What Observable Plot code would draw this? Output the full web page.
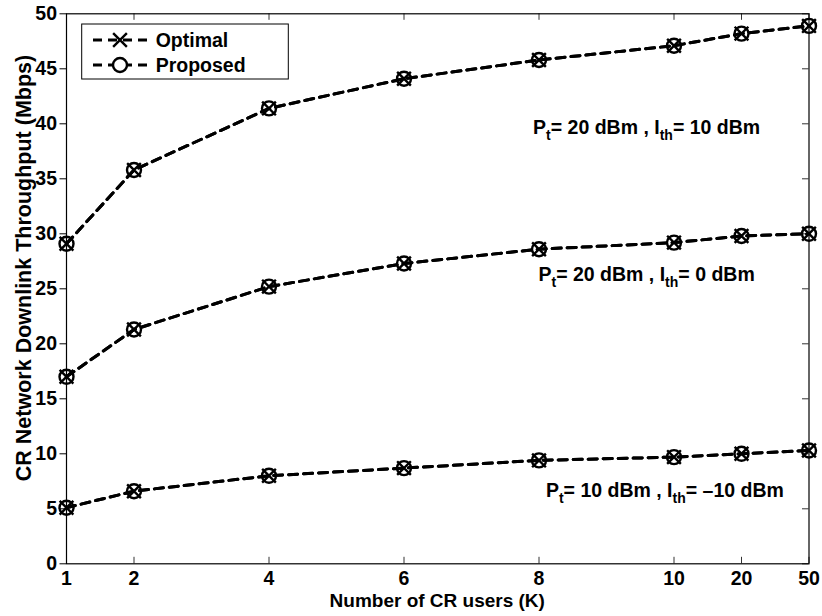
<!DOCTYPE html>
<html><head><meta charset="utf-8">
<script src="https://cdn.jsdelivr.net/npm/d3@7"></script>
<script src="https://cdn.jsdelivr.net/npm/@observablehq/plot@0.6"></script>
<style>
html,body{margin:0;padding:0;background:#fff;}
#chart{width:822px;height:616px;}
svg{font-family:"Liberation Sans",Arial,Helvetica,sans-serif;}
</style></head><body><div id="chart"></div>
<script>
// Category labels of the x axis (number of CR users) and their axis positions
const kLabels = ["1", "2", "4", "6", "8", "10", "20", "50"];
const kPos = [1, 2, 4, 6, 8, 10, 11, 12];
const yTicks = [0, 5, 10, 15, 20, 25, 30, 35, 40, 45, 50];

const methods = ["Optimal", "Proposed"];
const scenarioNames = ["Pt=20, Ith=10", "Pt=20, Ith=0", "Pt=10, Ith=-10"];

// Throughput (Mbps)
const optimalHigh  = [29.1, 35.8, 41.4, 44.1, 45.8, 47.1, 48.2, 48.9];
const proposedHigh = [29.1, 35.8, 41.4, 44.1, 45.8, 47.1, 48.2, 48.9];
const optimalMid   = [17.0, 21.3, 25.2, 27.3, 28.6, 29.2, 29.8, 30.0];
const proposedMid  = [17.0, 21.3, 25.2, 27.3, 28.6, 29.2, 29.8, 30.0];
const optimalLow   = [5.1, 6.6, 8.0, 8.7, 9.4, 9.7, 10.0, 10.3];
const proposedLow  = [5.1, 6.6, 8.0, 8.7, 9.4, 9.7, 10.0, 10.3];

// Annotation texts and anchors (data coordinates)
const annoPt  = ["20", "20", "10"];
const annoIth = ["10", "0", "\u201310"];
const annoX = [7.92, 8.0, 8.11];
const annoY = [39.0, 25.7, 6.05];

const series = [
  [scenarioNames[0], "Optimal", optimalHigh], [scenarioNames[0], "Proposed", proposedHigh],
  [scenarioNames[1], "Optimal", optimalMid],  [scenarioNames[1], "Proposed", proposedMid],
  [scenarioNames[2], "Optimal", optimalLow],  [scenarioNames[2], "Proposed", proposedLow]
];
const rows = [];
for (const [sc, m, vals] of series) vals.forEach((v, i) => rows.push({scenario: sc, method: m, k: kPos[i], v}));

const W = 822, H = 616, mL = 66, mR = 13.5, mT = 13.3, mB = 52.7;
const plotW = W - mL - mR, plotH = H - mT - mB;
const TICK = 6.5;
const FS = 19.5;

const plot = Plot.plot({
  width: W, height: H,
  marginLeft: mL, marginRight: mR, marginTop: mT, marginBottom: mB,
  x: {domain: [1, 12]},
  y: {domain: [0, 50]},
  style: {fontFamily: '"Liberation Sans", Arial, Helvetica, sans-serif', fontSize: FS + "px", fontWeight: "bold", color: "black", background: "white", overflow: "visible"},
  marks: [
    Plot.ruleX(kPos, {insetTop: plotH - TICK, stroke: "#333", strokeWidth: 1}),
    Plot.ruleX(kPos, {insetBottom: plotH - TICK, stroke: "#333", strokeWidth: 1}),
    Plot.ruleY(yTicks, {insetLeft: plotW - TICK, stroke: "#333", strokeWidth: 1}),
    Plot.axisY(yTicks, {anchor: "left", tickSize: TICK, tickPadding: 3, label: null, fontSize: FS, stroke: "black"}),
    Plot.axisX(kPos, {anchor: "bottom", tickSize: 0, tickPadding: 7, label: null, fontSize: FS,
      tickFormat: d => kLabels[kPos.indexOf(d)]}),
    Plot.frame({stroke: "black", strokeWidth: 1.2}),
    Plot.line(rows, {x: "k", y: "v", z: d => d.scenario + d.method, stroke: "black", strokeWidth: 3, strokeDasharray: "9,6"}),
    Plot.dot(rows.filter(d => d.method === "Optimal"), {x: "k", y: "v", symbol: "times", r: 6.3, stroke: "black", strokeWidth: 2.4}),
    Plot.dot(rows.filter(d => d.method === "Proposed"), {x: "k", y: "v", symbol: "circle", r: 7, fill: "none", stroke: "black", strokeWidth: 2.4})
  ]
});
document.getElementById("chart").appendChild(plot);

const svg = d3.select(plot);
const xs = plot.scale("x"), ys = plot.scale("y");

// Annotations with subscripts
annoX.forEach((ax, i) => {
  const t = svg.append("text")
    .attr("x", xs.apply(ax)).attr("y", ys.apply(annoY[i]))
    .attr("text-anchor", "start")
    .attr("font-size", FS).attr("font-weight", "bold").attr("fill", "black");
  t.append("tspan").text("P");
  t.append("tspan").attr("font-size", 14).attr("dy", 6).text("t");
  t.append("tspan").attr("dy", -6).text(`= ${annoPt[i]} dBm , I`);
  t.append("tspan").attr("font-size", 14).attr("dy", 6).text("th");
  t.append("tspan").attr("dy", -6).text(`= ${annoIth[i]} dBm`);
});

// Axis titles
svg.append("text").attr("x", mL + plotW / 2).attr("y", 607).attr("text-anchor", "middle")
  .attr("font-size", 19).attr("font-weight", "bold").text("Number of CR users (K)");
svg.append("text").attr("transform", `translate(31,268) rotate(-90)`).attr("text-anchor", "middle")
  .attr("font-size", 21.5).attr("font-weight", "bold").text("CR Network Downlink Throughput (Mbps)");

// Legend
const lg = svg.append("g");
lg.append("rect").attr("x", 81.7).attr("y", 24).attr("width", 206.6).attr("height", 55)
  .attr("fill", "white").attr("stroke", "black").attr("stroke-width", 1);
const legSymbols = [d3.symbolTimes, d3.symbolCircle];
const legSizes = [Math.PI * 6.3 * 6.3, Math.PI * 7 * 7];
methods.forEach((m, i) => {
  const cy = 40 + i * 25;
  lg.append("line").attr("x1", 93).attr("x2", 148).attr("y1", cy).attr("y2", cy)
    .attr("stroke", "black").attr("stroke-width", 3).attr("stroke-dasharray", "9,6");
  lg.append("path").attr("d", d3.symbol(legSymbols[i], legSizes[i])())
    .attr("transform", `translate(120,${cy})`).attr("fill", i === 1 ? "white" : "none")
    .attr("stroke", "black").attr("stroke-width", 2.4);
  lg.append("text").attr("x", 155.7).attr("y", cy + 7).attr("text-anchor", "start")
    .attr("font-size", FS).attr("font-weight", "bold").text(m);
});
</script></body></html>
